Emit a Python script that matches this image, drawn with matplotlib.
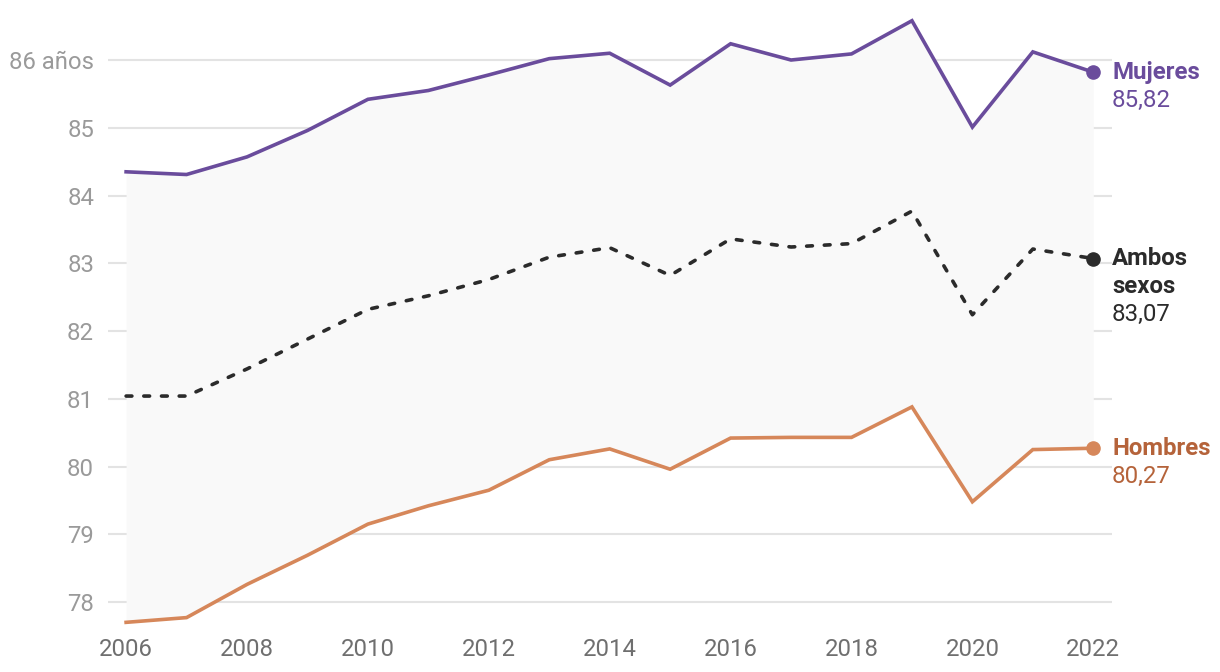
import matplotlib.pyplot as plt
import numpy as np

plt.rcParams['font.family'] = ['Roboto', 'DejaVu Sans']

years = list(range(2006, 2023))
mujeres = [84.35, 84.31, 84.57, 84.96, 85.42, 85.55, 85.78, 86.02, 86.10, 85.63,
           86.24, 86.00, 86.09, 86.58, 85.01, 86.12, 85.82]
ambos = [81.04, 81.04, 81.44, 81.88, 82.32, 82.52, 82.76, 83.09, 83.23, 82.82,
         83.36, 83.24, 83.29, 83.77, 82.24, 83.21, 83.07]
hombres = [77.70, 77.77, 78.26, 78.69, 79.15, 79.42, 79.65, 80.10, 80.26, 79.96,
           80.42, 80.43, 80.43, 80.88, 79.48, 80.25, 80.27]

yticks = [78, 79, 80, 81, 82, 83, 84, 85, 86]
ytick_labels = ['78', '79', '80', '81', '82', '83', '84', '85', '86 años']
xticks = [2006, 2008, 2010, 2012, 2014, 2016, 2018, 2020, 2022]

c_muj = '#6a4c9c'
c_amb = '#2b2b2b'
c_hom = '#d6875a'
c_hom_txt = '#b5633a'

fig = plt.figure(figsize=(12.2, 6.72), dpi=100)
ax = fig.add_axes([0.0885, 0.0625, 0.823, 0.9226])

ax.fill_between(years, hombres, mujeres, color='#f9f9f9', lw=0, zorder=1)
for t in yticks:
    ax.axhline(t, color='#e3e3e3', lw=1.5, zorder=0)

ax.plot(years, mujeres, color=c_muj, lw=2.6, zorder=3, solid_joinstyle='miter')
ax.plot(years, ambos, color=c_amb, lw=2.6, zorder=3, dashes=(1.6, 3.3), dash_capstyle='round')
ax.plot(years, hombres, color=c_hom, lw=2.6, zorder=3, solid_joinstyle='miter')

ax.scatter([years[-1]], [mujeres[-1]], s=90, color=c_muj, zorder=4)
ax.scatter([years[-1]], [ambos[-1]], s=90, color=c_amb, zorder=4)
ax.scatter([years[-1]], [hombres[-1]], s=90, color=c_hom, zorder=4)

ax.set_xlim(2005.70, 2022.31)
ax.set_ylim(77.587, 86.738)
ax.set_yticks(yticks)
ax.set_yticklabels(ytick_labels)
ax.set_xticks(xticks)
ax.tick_params(axis='y', length=0, pad=10, labelsize=17.2, labelcolor='#9a9a9a')
ax.tick_params(axis='x', length=0, pad=6, labelsize=17.2, labelcolor='#6f6f6f')
for s in ax.spines.values():
    s.set_visible(False)

lx = 2022.31
fs = 17.3
ax.text(lx, mujeres[-1], 'Mujeres', color=c_muj, fontsize=fs, fontweight='bold', va='center', ha='left')
ax.text(lx, mujeres[-1] - 0.41, '85,82', color=c_muj, fontsize=fs, va='center', ha='left')
ax.text(lx, ambos[-1], 'Ambos', color=c_amb, fontsize=fs, fontweight='bold', va='center', ha='left')
ax.text(lx, ambos[-1] - 0.41, 'sexos', color=c_amb, fontsize=fs, fontweight='bold', va='center', ha='left')
ax.text(lx, ambos[-1] - 0.82, '83,07', color=c_amb, fontsize=fs, va='center', ha='left')
ax.text(lx, hombres[-1], 'Hombres', color=c_hom_txt, fontsize=fs, fontweight='bold', va='center', ha='left')
ax.text(lx, hombres[-1] - 0.41, '80,27', color=c_hom_txt, fontsize=fs, va='center', ha='left')

fig.savefig('out.png', dpi=100, facecolor='white')
